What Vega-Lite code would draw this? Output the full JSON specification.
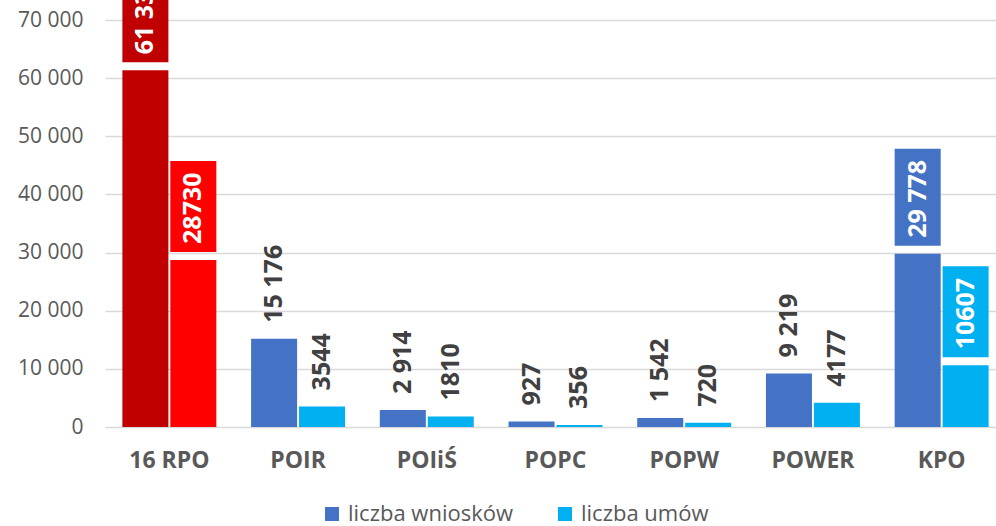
{
  "$schema": "https://vega.github.io/schema/vega-lite/v6.json",
  "width": 901,
  "height": 427,
  "autosize": {"type": "none"},
  "padding": {"left": 105, "top": 0, "right": -10, "bottom": 99},
  "background": "white",
  "config": {
    "view": {"stroke": null},
    "font": "Open Sans"
  },
  "data": {
    "values": [
      {"program": "16 RPO", "series": "liczba wniosków", "value": 61338, "label": "61 338"},
      {"program": "16 RPO", "series": "liczba umów", "value": 28730, "label": "28730"},
      {"program": "POIR", "series": "liczba wniosków", "value": 15176, "label": "15 176"},
      {"program": "POIR", "series": "liczba umów", "value": 3544, "label": "3544"},
      {"program": "POIiŚ", "series": "liczba wniosków", "value": 2914, "label": "2 914"},
      {"program": "POIiŚ", "series": "liczba umów", "value": 1810, "label": "1810"},
      {"program": "POPC", "series": "liczba wniosków", "value": 927, "label": "927"},
      {"program": "POPC", "series": "liczba umów", "value": 356, "label": "356"},
      {"program": "POPW", "series": "liczba wniosków", "value": 1542, "label": "1 542"},
      {"program": "POPW", "series": "liczba umów", "value": 720, "label": "720"},
      {"program": "POWER", "series": "liczba wniosków", "value": 9219, "label": "9 219"},
      {"program": "POWER", "series": "liczba umów", "value": 4177, "label": "4177"},
      {"program": "KPO", "series": "liczba wniosków", "value": 29778, "label": "29 778"},
      {"program": "KPO", "series": "liczba umów", "value": 10607, "label": "10607"}
    ]
  },
  "encoding": {
    "x": {
      "field": "program", "type": "nominal", "sort": null,
      "scale": {"paddingInner": 0.27, "paddingOuter": 0.135},
      "axis": {"title": null, "labelAngle": 0, "domain": false, "ticks": false, "labelPadding": 22,
               "labelFont": "Open Sans", "labelFontSize": 23, "labelFontWeight": "bold", "labelColor": "#595959"}
    },
    "xOffset": {
      "field": "series", "type": "nominal", "sort": ["liczba wniosków", "liczba umów"],
      "scale": {"paddingInner": 0.04}
    }
  },
  "layer": [
    {
      "mark": {"type": "bar"},
      "encoding": {
        "y": {
          "field": "value", "type": "quantitative", "stack": null,
          "scale": {"domain": [0, 73440], "nice": false, "zero": true},
          "axis": {"title": null, "values": [0, 10000, 20000, 30000, 40000, 50000, 60000, 70000],
                   "labelExpr": "replace(format(datum.value, ','), ',', ' ')",
                   "domain": false, "ticks": false, "labelPadding": 22,
                   "labelFont": "Open Sans", "labelFontSize": 21, "labelColor": "#595959",
                   "gridColor": "#d9d9d9", "gridWidth": 1.4}
        },
        "color": {
          "condition": [
            {"test": "datum.program === '16 RPO' && datum.series === 'liczba wniosków'", "value": "#C00000"},
            {"test": "datum.program === '16 RPO' && datum.series === 'liczba umów'", "value": "#FF0000"}
          ],
          "field": "series", "type": "nominal",
          "scale": {"domain": ["liczba wniosków", "liczba umów"], "range": ["#4472C4", "#00B0F0"]},
          "legend": {
            "title": null, "orient": "none", "legendX": 216, "legendY": 503, "direction": "horizontal",
            "symbolType": "square", "symbolSize": 196, "symbolStrokeWidth": 0,
            "labelFont": "Open Sans", "labelFontSize": 22, "labelColor": "#595959", "labelLimit": 400,
            "labelOffset": 5, "columnPadding": 40, "padding": 0
          }
        }
      }
    },
    {
      "transform": [{"filter": "datum.program !== '16 RPO' && datum.program !== 'KPO'"}],
      "mark": {"type": "text", "angle": 270, "align": "left", "baseline": "middle", "dx": 16,
               "font": "Open Sans", "fontSize": 25, "fontWeight": "bold", "color": "#404040"},
      "encoding": {
        "y": {"field": "value", "type": "quantitative"},
        "text": {"field": "label"}
      }
    },
    {
      "transform": [{"filter": "(datum.program === '16 RPO' || datum.program === 'KPO') && indexof(datum.label, ' ') < 0"}],
      "mark": {"type": "bar", "yOffset": -8, "y2Offset": -99},
      "encoding": {
        "y": {"field": "value", "type": "quantitative"},
        "y2": {"field": "value"},
        "color": {
          "condition": [
            {"test": "datum.program === '16 RPO' && datum.series === 'liczba wniosków'", "value": "#C00000"},
            {"test": "datum.program === '16 RPO' && datum.series === 'liczba umów'", "value": "#FF0000"}
          ],
          "field": "series", "type": "nominal", "legend": null
        }
      }
    },
    {
      "transform": [{"filter": "(datum.program === '16 RPO' || datum.program === 'KPO') && indexof(datum.label, ' ') >= 0"}],
      "mark": {"type": "bar", "yOffset": -8, "y2Offset": -105},
      "encoding": {
        "y": {"field": "value", "type": "quantitative"},
        "y2": {"field": "value"},
        "color": {
          "condition": [
            {"test": "datum.program === '16 RPO' && datum.series === 'liczba wniosków'", "value": "#C00000"},
            {"test": "datum.program === '16 RPO' && datum.series === 'liczba umów'", "value": "#FF0000"}
          ],
          "field": "series", "type": "nominal", "legend": null
        }
      }
    },
    {
      "transform": [{"filter": "datum.program === '16 RPO' || datum.program === 'KPO'"}],
      "mark": {"type": "text", "angle": 270, "align": "left", "baseline": "middle", "dx": 16,
               "font": "Open Sans", "fontSize": 25, "fontWeight": "bold", "color": "white"},
      "encoding": {
        "y": {"field": "value", "type": "quantitative"},
        "text": {"field": "label"}
      }
    }
  ]
}
